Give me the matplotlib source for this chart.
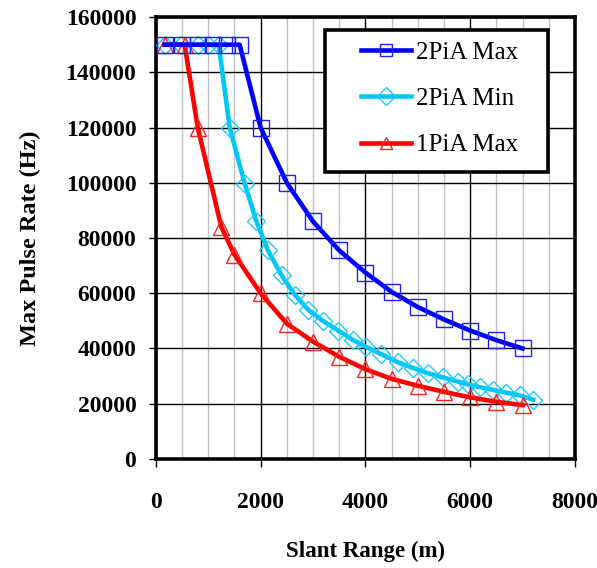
import matplotlib
matplotlib.use("Agg")
import matplotlib.pyplot as plt
from matplotlib.ticker import MultipleLocator
from matplotlib.patches import Rectangle

# ---- data ----
blue_x = [170, 500, 800, 1100, 1350, 1600, 2000, 2500, 3000, 3500, 4000, 4500, 5000, 5500, 6000, 6500, 7000]
blue_y = [150000, 150000, 150000, 150000, 150000, 150000, 120000, 100000, 86000, 75500, 67500, 60500, 55000, 50500, 46500, 43000, 40000]

cyan_x = [170, 480, 800, 1000, 1200, 1410, 1700, 1920, 2140, 2400, 2650, 2910, 3190, 3480, 3770, 4020, 4300,
          4620, 4900, 5200, 5480, 5770, 5960, 6180, 6440, 6690, 6950, 7200]
cyan_y = [150000, 150000, 150000, 150000, 150000, 120000, 99500, 86000, 75500, 66500, 59500, 54000, 50000,
          46500, 43000, 40500, 38000, 35000, 33000, 31000, 29500, 28000, 27000, 26000, 25000, 24000, 23000, 21500]

red_x = [170, 550, 800, 1250, 1500, 2000, 2500, 3000, 3500, 4000, 4500, 5000, 5500, 6000, 6500, 7000]
red_y = [150000, 150000, 120000, 84000, 74000, 60000, 49000, 42500, 37000, 32500, 29000, 26500, 24300, 22300, 20700, 19500]

series_labels = ["2PiA Max", "2PiA Min", "1PiA Max"]
x_label = "Slant Range (m)"
y_label = "Max Pulse Rate (Hz)"

serif = ["Liberation Serif", "DejaVu Serif"]

fig = plt.figure(figsize=(5.97, 5.68), dpi=100)
ax = fig.add_axes([0.261, 0.192, 0.702, 0.778])

ax.plot(blue_x, blue_y, color="#0000FF", lw=3.3, marker="s", ms=11, mfc="none", mec="#2020FF", mew=1.0,
        label=series_labels[0], zorder=4)
ax.plot(cyan_x, cyan_y, color="#00C8F5", lw=3.3, marker="D", ms=9, mfc="none", mec="#20C8FF", mew=1.0,
        label=series_labels[1], zorder=3)
ax.plot(red_x, red_y, color="#FF0000", lw=3.3, marker="^", ms=11, mfc="none", mec="#FF2020", mew=1.0,
        label=series_labels[2], zorder=3)

ax.set_xlim(0, 8000)
ax.set_ylim(0, 160000)
ax.xaxis.set_major_locator(MultipleLocator(2000))
ax.xaxis.set_minor_locator(MultipleLocator(500))
ax.yaxis.set_major_locator(MultipleLocator(20000))

ax.grid(which="minor", axis="x", color="#c0c0c0", lw=1.0, zorder=0)
ax.grid(which="major", axis="both", color="black", lw=1.0, zorder=1)
ax.set_axisbelow(True)

for s in ax.spines.values():
    s.set_linewidth(2.6)
    s.set_color("black")

ax.tick_params(axis="x", which="major", direction="out", length=6, width=1.0, pad=18)
ax.tick_params(axis="x", which="minor", length=0)
ax.tick_params(axis="y", which="major", direction="out", length=5, width=1.0, pad=9)

for lab in ax.get_xticklabels() + ax.get_yticklabels():
    lab.set_family(serif)
    lab.set_fontweight("bold")
    lab.set_fontsize(17)

ax.set_xlabel(x_label, family=serif, fontweight="bold", fontsize=16.5, labelpad=20)
ax.set_ylabel(y_label, family=serif, fontweight="bold", fontsize=17.5, labelpad=18)

# legend box (frame drawn separately to match the wide reference box)
box = Rectangle((0.403, 0.649), 0.533, 0.322, transform=ax.transAxes, facecolor="white",
                edgecolor="black", lw=2.6, zorder=5)
ax.add_patch(box)
leg = ax.legend(loc="center left", bbox_to_anchor=(0.489, 0.815), prop={"family": serif, "size": 18},
                frameon=False, handlelength=2.0, handletextpad=0.2, labelspacing=0.95, borderpad=0,
                borderaxespad=0)
leg.set_zorder(6)
for h in leg.legend_handles:
    h.set_markersize(9)

fig.savefig("out.png", dpi=100)
